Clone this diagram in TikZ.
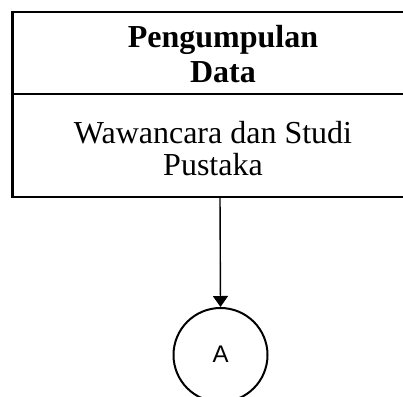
\documentclass[tikz,border=0pt]{standalone}
\usepackage{fontspec}
\setmainfont{Liberation Serif}
\setsansfont{Liberation Sans}
\usetikzlibrary{arrows.meta}
\begin{document}
\begin{tikzpicture}[x=1pt,y=-1pt,
  frame/.style={draw,line width=2.5pt,rectangle,minimum width=420pt,minimum height=185pt,inner sep=0pt},
  heading/.style={font=\bfseries\fontsize{32}{35}\selectfont,align=center,anchor=base,inner sep=0pt},
  bodytext/.style={font=\fontsize{32}{32}\selectfont,align=center,anchor=base,inner sep=0pt},
  connector/.style={draw,circle,line width=2pt,minimum size=94pt,inner sep=0pt,
    text height=17pt,text depth=3pt,font=\sffamily\fontsize{24}{24}\selectfont},
  flow/.style={line width=1.4pt,-{Triangle[length=11pt,width=15pt]}}]
\useasboundingbox (0,0) rectangle (403,396);
\clip (0,0) rectangle (403,396);
% process box with its heading compartment
\node[frame] (box) at (222.5,104.5) {};
\coordinate (divL) at (12.5,94);
\coordinate (divR) at (432.5,94);
\draw[line width=2.5pt] (divL) -- (divR);
% multi-line nodes sit on the baseline of their last line
\node[heading] (title) at (223,82) {Pengumpulan\\Data};
\node[bodytext] (body) at (213,175) {Wawancara dan Studi\\Pustaka};
% off-page connector
\node[connector] (A) at (220.5,355) {A};
\coordinate (out) at (220,197);
\draw[flow] (out) -- (A.north);
\end{tikzpicture}
\end{document}
